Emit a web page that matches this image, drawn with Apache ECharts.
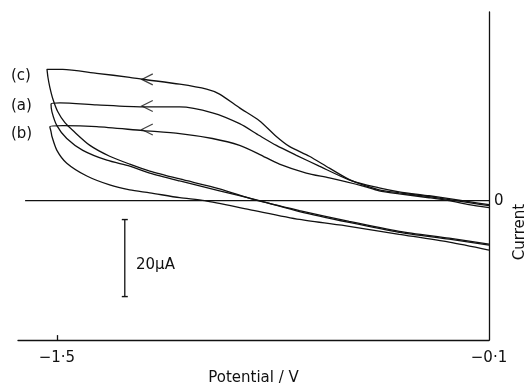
<!DOCTYPE html>
<html>
<head>
<meta charset="utf-8">
<script src="https://cdn.jsdelivr.net/npm/echarts@6/dist/echarts.min.js"></script>
<style>
  html, body { margin: 0; padding: 0; background: #fff; }
  #cv { width: 530px; height: 391px; }
</style>
</head>
<body>
<div id="cv"></div>
<script>
// potential (V) and current (uA) along each closed loop:
// upper branch from -0.1 V to -1.5 V, then lower branch back to -0.1 V
var loopC = [
  [-0.10, -1.03], [-0.165, -0.26], [-0.229, 0.51], [-0.294, 1.28], [-0.391, 2.31],
  [-0.456, 3.33], [-0.543, 5.13], [-0.617, 8.46], [-0.682, 11.54], [-0.747, 14.10],
  [-0.789, 16.67], [-0.844, 20.77], [-0.908, 24.10], [-0.973, 27.69], [-1.015, 28.97],
  [-1.102, 30.26], [-1.222, 31.54], [-1.264, 32.05], [-1.371, 33.08], [-1.481, 34.10],
  [-1.532, 34.10],
  [-1.529, 32.05], [-1.523, 29.49], [-1.513, 26.41], [-1.497, 23.08], [-1.474, 20.26],
  [-1.448, 18.21], [-1.393, 14.36], [-1.329, 11.54], [-1.264, 9.49], [-1.199, 7.69],
  [-1.102, 5.64], [-0.973, 3.08], [-0.860, 0.26], [-0.714, -2.56], [-0.553, -5.38],
  [-0.391, -7.95], [-0.229, -9.74], [-0.10, -11.28]
];
var loopA = [
  [-0.10, -1.28], [-0.165, -0.51], [-0.229, 0.26], [-0.294, 1.03], [-0.391, 2.05],
  [-0.456, 2.82], [-0.553, 5.38], [-0.650, 8.97], [-0.724, 11.79], [-0.789, 14.36],
  [-0.844, 16.92], [-0.908, 20.0], [-0.996, 22.82], [-1.102, 24.36], [-1.222, 24.36],
  [-1.371, 24.87], [-1.490, 25.38], [-1.519, 25.13],
  [-1.516, 23.08], [-1.500, 19.49], [-1.468, 16.15], [-1.416, 13.08], [-1.338, 10.51],
  [-1.264, 8.97], [-1.199, 7.18], [-1.102, 5.13], [-0.973, 2.56], [-0.844, 0],
  [-0.714, -2.82], [-0.553, -5.64], [-0.391, -8.21], [-0.229, -10.0], [-0.10, -11.54]
];
var loopB = [
  [-0.10, -1.79], [-0.165, -1.03], [-0.229, 0], [-0.294, 0.77], [-0.391, 1.79],
  [-0.456, 2.56], [-0.511, 3.85], [-0.617, 5.90], [-0.692, 7.18], [-0.779, 9.49],
  [-0.844, 12.05], [-0.908, 14.36], [-0.996, 16.15], [-1.102, 17.44], [-1.222, 18.21],
  [-1.371, 19.23], [-1.481, 19.49], [-1.523, 19.23],
  [-1.519, 17.95], [-1.516, 16.67], [-1.500, 13.08], [-1.468, 9.74], [-1.403, 6.41],
  [-1.329, 4.10], [-1.264, 2.82], [-1.199, 2.05], [-1.102, 0.77], [-1.021, 0],
  [-0.876, -2.31], [-0.714, -4.87], [-0.553, -6.67], [-0.391, -8.72], [-0.229, -10.77],
  [-0.10, -12.82]
];

// scan direction arrows on the upper branches (c, a, b)
var arrowPts = [[-1.225, 31.5], [-1.225, 24.6], [-1.225, 18.5]];

// zero-current baseline and 20 uA scale bar
var zeroLine = [[-1.603, 0], [-0.10, 0]];
var scaleBar = [[-1.280, -4.9], [-1.280, -24.9]];

var xTicks = [-1.5, -0.1];
var xTickText = { '-1.5': '\u22121\u00b75', '-0.1': '\u22120\u00b71' };
var yTicks = [0];

var ink = '#111';
var font = 'DejaVu Sans';

var chart = echarts.init(document.getElementById('cv'));

function loop(data) {
  return {
    type: 'line',
    data: data,
    showSymbol: false,
    smooth: 0.25,
    lineStyle: { color: ink, width: 1.3 },
    silent: true
  };
}

var option = {
  backgroundColor: '#fff',
  animation: false,
  grid: { left: 18, right: 41, top: 12, bottom: 47 },
  xAxis: {
    type: 'value',
    min: -1.626,
    max: -0.1,
    name: 'Potential / V',
    nameLocation: 'middle',
    nameGap: 28,
    nameTextStyle: { fontFamily: font, fontSize: 15, color: ink },
    axisLine: { show: true, onZero: false, lineStyle: { color: ink, width: 1.3 } },
    axisTick: { show: true, inside: true, length: 5, customValues: [-1.5], lineStyle: { color: ink, width: 1.3 } },
    axisLabel: {
      customValues: xTicks,
      margin: 11,
      fontFamily: font,
      fontSize: 15,
      color: ink,
      formatter: function (v) { return xTickText[v.toFixed(1)]; }
    },
    splitLine: { show: false }
  },
  yAxis: {
    type: 'value',
    position: 'right',
    min: -36.2,
    max: 49,
    axisLine: { show: true, onZero: false, lineStyle: { color: ink, width: 1.3 } },
    axisTick: { show: false },
    axisLabel: {
      customValues: yTicks,
      margin: 5,
      fontFamily: font,
      fontSize: 15,
      color: ink,
      formatter: function () { return '0'; }
    },
    splitLine: { show: false }
  },
  series: [
    loop(loopC),
    loop(loopA),
    loop(loopB),
    {
      type: 'line',
      data: zeroLine,
      showSymbol: false,
      lineStyle: { color: ink, width: 1.3 }
    },
    {
      type: 'line',
      data: scaleBar,
      symbol: 'rect',
      symbolSize: [6, 1.4],
      showSymbol: true,
      itemStyle: { color: ink },
      lineStyle: { color: ink, width: 1.3 }
    },
    {
      type: 'scatter',
      data: arrowPts,
      symbol: 'path://M10,0 L0,6 L10,12',
      symbolSize: [11, 11],
      symbolOffset: [5.5, 0],
      itemStyle: { color: 'none', borderColor: ink, borderWidth: 1.2 }
    }
  ],
  graphic: [
    { type: 'text', left: 11, top: 69, style: { text: '(c)', font: '15px "DejaVu Sans"', fill: ink } },
    { type: 'text', left: 11, top: 99, style: { text: '(a)', font: '15px "DejaVu Sans"', fill: ink } },
    { type: 'text', left: 11, top: 127, style: { text: '(b)', font: '15px "DejaVu Sans"', fill: ink } },
    { type: 'text', left: 136, top: 258, style: { text: '20\u00b5A', font: '15px "DejaVu Sans"', fill: ink } },
    {
      type: 'text',
      x: 520, y: 232,
      rotation: Math.PI / 2,
      style: { text: 'Current', font: '15px "DejaVu Sans"', fill: ink, align: 'center', verticalAlign: 'middle' }
    }
  ]
};

chart.setOption(option);
</script>
</body>
</html>
